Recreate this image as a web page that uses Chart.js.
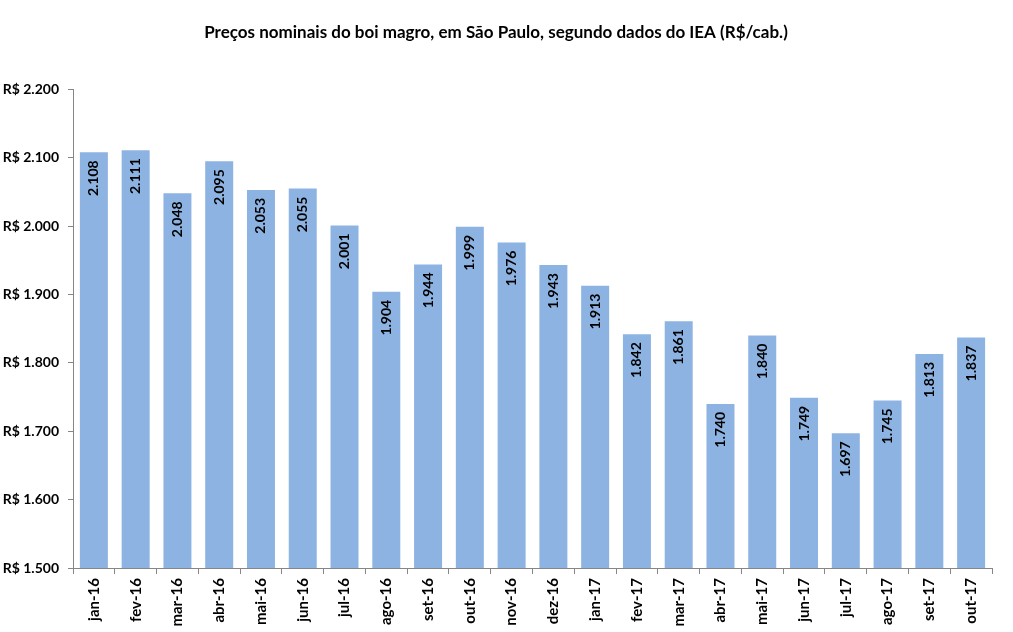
<!DOCTYPE html>
<html>
<head>
<meta charset="utf-8">
<script src="https://cdn.jsdelivr.net/npm/chart.js@4"></script>
<style>
  html, body { margin: 0; padding: 0; background: #fff; }
  #wrap { width: 1013px; height: 632px; position: relative; }
</style>
</head>
<body>
<div id="wrap"><canvas id="myChart"></canvas></div>
<script>
// data
const months = ["jan-16", "fev-16", "mar-16", "abr-16", "mai-16", "jun-16", "jul-16", "ago-16", "set-16", "out-16", "nov-16",
    "dez-16", "jan-17", "fev-17", "mar-17", "abr-17", "mai-17", "jun-17", "jul-17", "ago-17", "set-17", "out-17"];
const prices = [2108, 2111, 2048, 2095, 2053, 2055, 2001, 1904, 1944, 1999, 1976,
    1943, 1913, 1842, 1861, 1740, 1840, 1749, 1697, 1745, 1813, 1837];
const yTicks = [1500, 1600, 1700, 1800, 1900, 2000, 2100, 2200];

const fontName = "Lato, 'Open Sans', sans-serif";

function fmt(v) {
    return v.toLocaleString('de-DE');
}

// labels written inside the bars, rotated
const barLabels = {
    id: 'barLabels',
    afterDatasetsDraw(chart) {
        let ctx = chart.ctx;
        let meta = chart.getDatasetMeta(0);
        ctx.save();
        ctx.fillStyle = '#000';
        ctx.font = 'bold 14px ' + fontName;
        ctx.textAlign = 'right';
        ctx.textBaseline = 'middle';
        meta.data.forEach(function(bar, i) {
            ctx.save();
            ctx.translate(bar.x, bar.y + 8);
            ctx.rotate(-Math.PI / 2);
            ctx.fillText(fmt(prices[i]), 0, 0);
            ctx.restore();
        });
        ctx.restore();
    }
};

let popCanvas = document.getElementById("myChart").getContext("2d");
let barChart = new Chart(popCanvas, {
    type: 'bar',
    data: {
        labels: months,
        datasets: [{
            label: 'Preço',
            data: prices,
            backgroundColor: '#8db3e2',
            categoryPercentage: 1,
            barPercentage: 0.67
        }]
    },
    options: {
        responsive: true,
        maintainAspectRatio: false,
        animation: false,
        layout: { padding: { left: 0, right: 21, top: 0, bottom: 0 } },
        plugins: {
            legend: { display: false },
            tooltip: { enabled: false },
            title: {
                display: true,
                text: 'Preços nominais do boi magro, em São Paulo, segundo dados do IEA (R$/cab.)',
                color: '#000',
                font: { family: fontName, size: 17, weight: 'bold' },
                padding: { top: 22, bottom: 47 }
            }
        },
        scales: {
            x: {
                offset: true,
                grid: { display: true, offset: true, drawOnChartArea: false, color: '#868686', tickLength: 6 },
                border: { color: '#868686' },
                ticks: {
                    color: '#000',
                    maxRotation: 90,
                    minRotation: 90,
                    padding: 4,
                    font: { family: fontName, size: 15, weight: 'bold' }
                },
                afterFit(scale) { scale.height = 64; }
            },
            y: {
                min: 1500,
                max: 2200,
                afterBuildTicks(scale) { scale.ticks = yTicks.map(v => ({ value: v })); },
                grid: { drawOnChartArea: false, color: '#868686', tickLength: 5 },
                border: { color: '#868686' },
                ticks: {
                    color: '#000',
                    padding: 9,
                    font: { family: fontName, size: 14, weight: 'bold' },
                    callback: function(v) { return 'R$ ' + fmt(v); }
                },
                afterFit(scale) { scale.width = 73; }
            }
        }
    },
    plugins: [barLabels]
});
</script>
</body>
</html>
